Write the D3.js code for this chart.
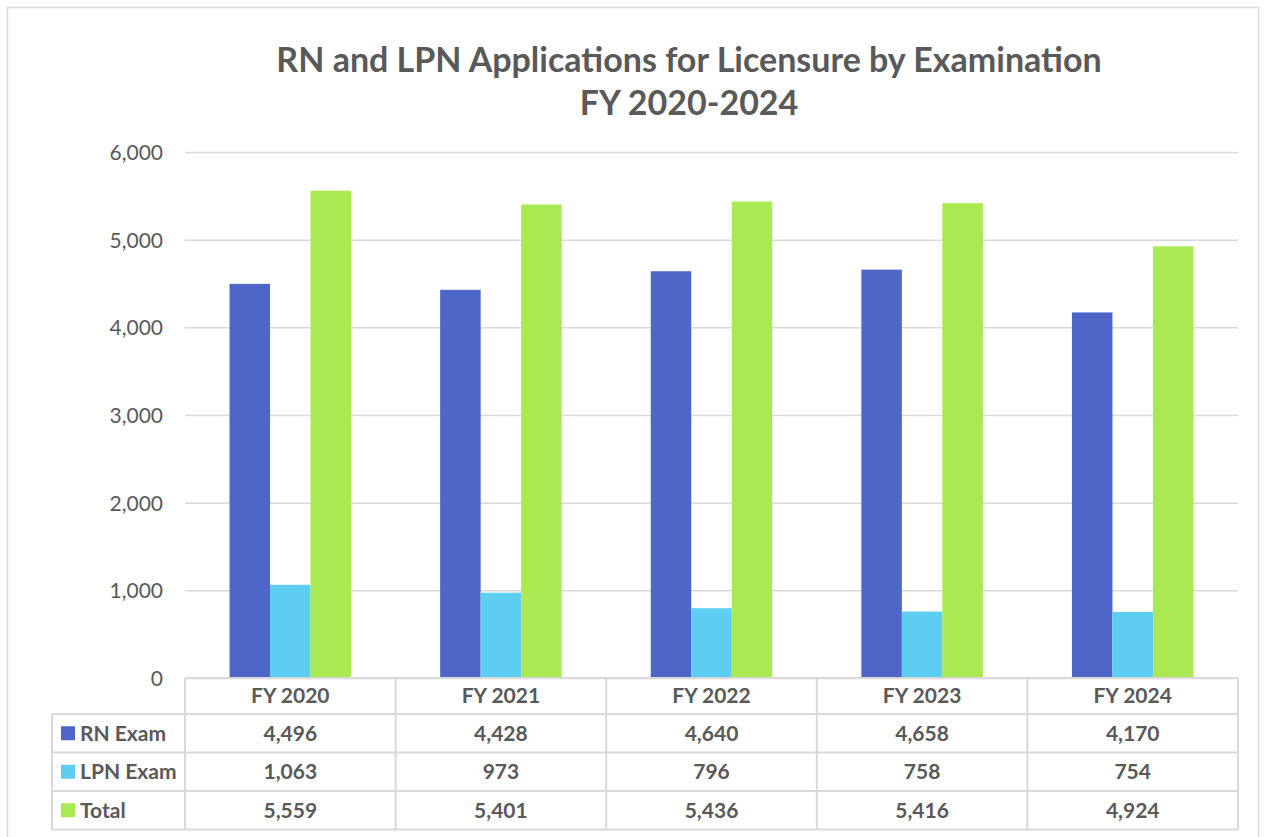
<!DOCTYPE html>
<html>
<head>
<meta charset="utf-8">
<script src="https://cdn.jsdelivr.net/npm/d3@7"></script>
<style>
  body { margin: 0; background: #fff; }
  svg { display: block; font-family: Lato, "Open Sans", sans-serif; }
</style>
</head>
<body>
<div id="chart"></div>
<script>
// --- data ---
const categories = ["FY 2020", "FY 2021", "FY 2022", "FY 2023", "FY 2024"];
const seriesNames = ["RN Exam", "LPN Exam", "Total"];
const rnExam = [4496, 4428, 4640, 4658, 4170];
const lpnExam = [1063, 973, 796, 758, 754];
const total = [5559, 5401, 5436, 5416, 4924];
const yTicks = [0, 1000, 2000, 3000, 4000, 5000, 6000];
const titleLines = ["RN and LPN Applications for Licensure by Examination", "FY 2020-2024"];

const colors = ["#4E66C8", "#5DCDF2", "#A9EA52"];
const textColor = "#595959";
const lineColor = "#D9D9D9";

const W = 1266, H = 837;
const plot = { left: 185, right: 1238, top: 152, bottom: 678 };
const table = { left: 52, headerH: 36, rowH: 38.5 };

const svg = d3.select("#chart").append("svg")
    .attr("width", W)
    .attr("height", H);

// outer chart frame
svg.append("rect")
    .attr("x", 7.5).attr("y", 7.5)
    .attr("width", 1251).attr("height", 840)
    .attr("fill", "#fff")
    .attr("stroke", lineColor)
    .attr("stroke-width", 1.5);

// title
const title = svg.append("text")
    .attr("text-anchor", "middle")
    .attr("fill", textColor)
    .attr("font-weight", "bold")
    .attr("font-size", 34);
titleLines.forEach((t, i) => {
    title.append("tspan")
        .attr("x", 689)
        .attr("y", 72 + i * 43)
        .text(t);
});

// scales
const x = d3.scaleBand()
    .domain(categories)
    .range([plot.left, plot.right]);

const barW = 40.5;
const xSub = d3.scaleBand()
    .domain(seriesNames)
    .range([0, barW * 3]);

const y = d3.scaleLinear()
    .domain([0, 6000])
    .range([plot.bottom, plot.top]);

// grid lines
const yAxis = d3.axisLeft(y)
    .tickValues(yTicks)
    .tickSize(-(plot.right - plot.left))
    .tickPadding(22)
    .tickFormat(d3.format(","));

const gY = svg.append("g")
    .attr("transform", `translate(${plot.left},0)`)
    .call(yAxis);
gY.select(".domain").remove();
gY.selectAll(".tick line")
    .attr("stroke", lineColor)
    .attr("stroke-width", 1.5);
gY.selectAll(".tick text")
    .attr("fill", textColor)
    .attr("font-size", 21)
    .attr("font-family", "Lato, sans-serif")
    .attr("dy", "0.35em");

// bars
const seriesData = [rnExam, lpnExam, total];
const groups = svg.append("g")
    .selectAll("g")
    .data(categories)
    .join("g")
    .attr("transform", d => `translate(${x(d) + x.bandwidth() / 2 - barW * 1.5},0)`);

groups.selectAll("rect")
    .data((d, i) => seriesNames.map((s, j) => ({ s, j, v: seriesData[j][i] })))
    .join("rect")
    .attr("x", d => xSub(d.s))
    .attr("y", d => y(d.v))
    .attr("width", xSub.bandwidth())
    .attr("height", d => y(0) - y(d.v))
    .attr("fill", d => colors[d.j]);

// data table
const tg = svg.append("g");
const rowY = i => plot.bottom + table.headerH + i * table.rowH;
const tableBottom = rowY(3);

// horizontal lines
tg.append("line")
    .attr("x1", plot.left).attr("x2", plot.right)
    .attr("y1", plot.bottom).attr("y2", plot.bottom);
[0, 1, 2, 3].forEach(i => {
    tg.append("line")
        .attr("x1", table.left).attr("x2", plot.right)
        .attr("y1", rowY(i)).attr("y2", rowY(i));
});
// vertical lines
tg.append("line")
    .attr("x1", table.left).attr("x2", table.left)
    .attr("y1", rowY(0)).attr("y2", tableBottom);
categories.concat(["end"]).forEach((c, i) => {
    const xx = i < categories.length ? x(c) : plot.right;
    tg.append("line")
        .attr("x1", xx).attr("x2", xx)
        .attr("y1", plot.bottom).attr("y2", tableBottom);
});
tg.selectAll("line")
    .attr("stroke", lineColor)
    .attr("stroke-width", 2);

// header labels
tg.selectAll("text.hdr")
    .data(categories)
    .join("text")
    .attr("class", "hdr")
    .attr("x", d => x(d) + x.bandwidth() / 2)
    .attr("y", plot.bottom + table.headerH / 2)
    .attr("dy", "0.35em")
    .attr("text-anchor", "middle")
    .attr("font-weight", "bold")
    .attr("font-size", 21)
    .attr("fill", textColor)
    .text(d => d);

// rows
const fmt = d3.format(",");
seriesNames.forEach((s, j) => {
    const cy = rowY(j) + table.rowH / 2;
    tg.append("rect")
        .attr("x", 61).attr("y", cy - 7)
        .attr("width", 14).attr("height", 14)
        .attr("fill", colors[j]);
    tg.append("text")
        .attr("x", 80).attr("y", cy)
        .attr("dy", "0.35em")
        .attr("font-weight", "bold")
        .attr("font-size", 21)
        .attr("fill", textColor)
        .text(s);
    tg.selectAll(null)
        .data(seriesData[j])
        .join("text")
        .attr("x", (d, i) => x(categories[i]) + x.bandwidth() / 2)
        .attr("y", cy)
        .attr("dy", "0.35em")
        .attr("text-anchor", "middle")
        .attr("font-weight", "bold")
        .attr("font-size", 21)
        .attr("fill", textColor)
        .text(d => fmt(d));
});
</script>
</body>
</html>
